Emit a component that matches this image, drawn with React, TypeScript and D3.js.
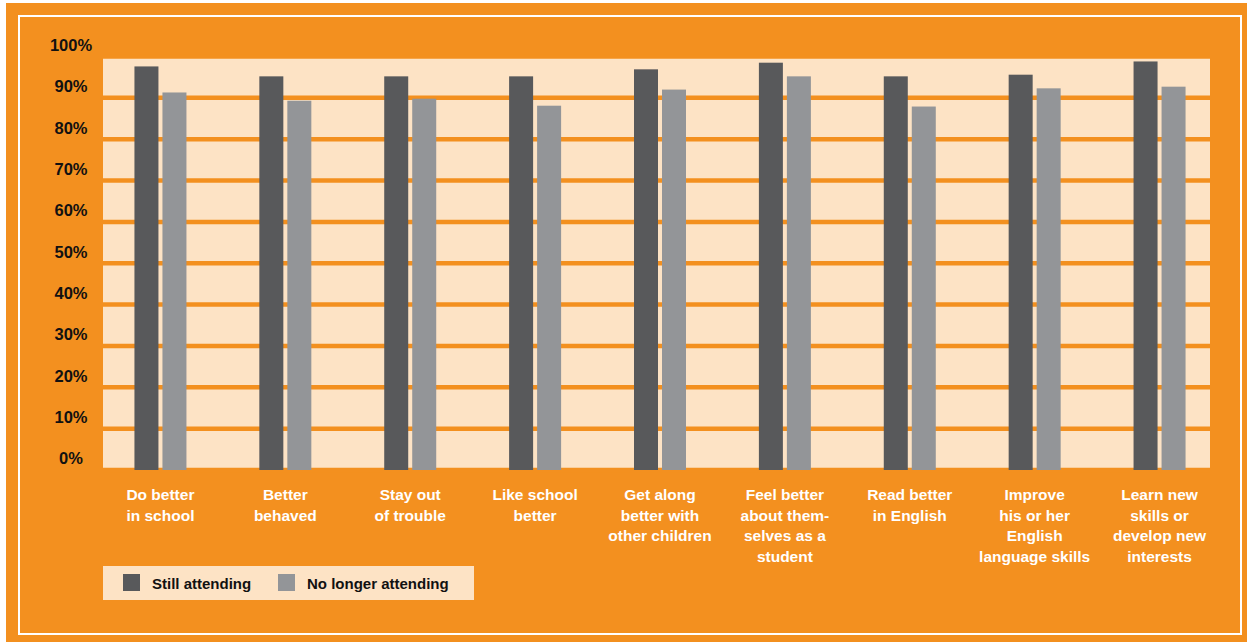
import React from "react";
import * as d3 from "d3";

const categories: string[][] = [
  ["Do better", "in school"],
  ["Better", "behaved"],
  ["Stay out", "of trouble"],
  ["Like school", "better"],
  ["Get along", "better with", "other children"],
  ["Feel better", "about them-", "selves as a", "student"],
  ["Read better", "in English"],
  ["Improve", "his or her", "English", "language skills"],
  ["Learn new", "skills or", "develop new", "interests"],
];
const seriesNames = ["Still attending", "No longer attending"];
const stillAttending = [97.6, 95.2, 95.2, 95.2, 96.9, 98.5, 95.2, 95.6, 98.8];
const noLongerAttending = [91.3, 89.3, 89.8, 88.1, 92.0, 95.2, 87.9, 92.3, 92.7];
const yTicks = [0, 10, 20, 30, 40, 50, 60, 70, 80, 90, 100];

const ORANGE = "#F3901F";
const PEACH = "#FDE3C5";
const DARK = "#58595B";
const LIGHT = "#939598";
const FONT = "'Liberation Sans', Arial, sans-serif";

export default function App() {
  const W = 1247, H = 642;
  const keys = categories.map((c) => c.join(" "));
  const x0 = d3.scaleBand<string>().domain(keys).range([98, 1222]).padding(0);
  const x1 = d3.scaleBand<string>().domain(seriesNames).range([-26, 26]).paddingInner(0.143);
  const y = d3.scaleLinear().domain([0, 100]).range([470, 56.5]);
  const color = d3.scaleOrdinal<string, string>().domain(seriesNames).range([DARK, LIGHT]);
  const values = [stillAttending, noLongerAttending];
  const plotL = 103, plotR = 1210;

  return (
    <svg width={W} height={H} style={{ position: "absolute", left: 0, top: 0 }} fontFamily={FONT}>
      <rect x={0} y={0} width={W} height={H} fill="#fff" />
      <rect x={6} y={3} width={W - 6} height={H - 3} fill={ORANGE} />
      <rect x={19} y={16} width={1222} height={618} fill="none" stroke="#fff" strokeWidth={2} />
      <rect x={plotL} y={y(100)} width={plotR - plotL} height={y(0) - y(100)} fill={PEACH} />
      {yTicks.map((t) => (
        <g key={t}>
          <line x1={plotL} x2={plotR} y1={y(t)} y2={y(t)} stroke={ORANGE} strokeWidth={4.5} />
          <text x={71} y={y(t) - 10} textAnchor="middle" dominantBaseline="middle" fontSize={16.5} fontWeight="bold" fill="#111">
            {t}%
          </text>
        </g>
      ))}
      {keys.map((k, i) => {
        const cx = (x0(k) ?? 0) + x0.bandwidth() / 2;
        return (
          <g key={k}>
            {seriesNames.map((s, j) => (
              <rect
                key={s}
                x={cx + (x1(s) ?? 0)}
                y={y(values[j][i])}
                width={x1.bandwidth()}
                height={y(0) - y(values[j][i])}
                fill={color(s)}
              />
            ))}
            <text x={cx} y={500} textAnchor="middle" fontSize={15.5} fontWeight="bold" fill="#fff">
              {categories[i].map((line, li) => (
                <tspan key={li} x={cx} dy={li === 0 ? 0 : 20.5}>
                  {line}
                </tspan>
              ))}
            </text>
          </g>
        );
      })}
      <rect x={103} y={566} width={371} height={34} fill={PEACH} />
      {seriesNames.map((s, j) => {
        const sx = j === 0 ? 123 : 278;
        return (
          <g key={s}>
            <rect x={sx} y={574} width={17} height={17} fill={color(s)} />
            <text x={sx + 29} y={588.5} fontSize={15} fontWeight="bold" fill="#111">
              {s}
            </text>
          </g>
        );
      })}
    </svg>
  );
}
